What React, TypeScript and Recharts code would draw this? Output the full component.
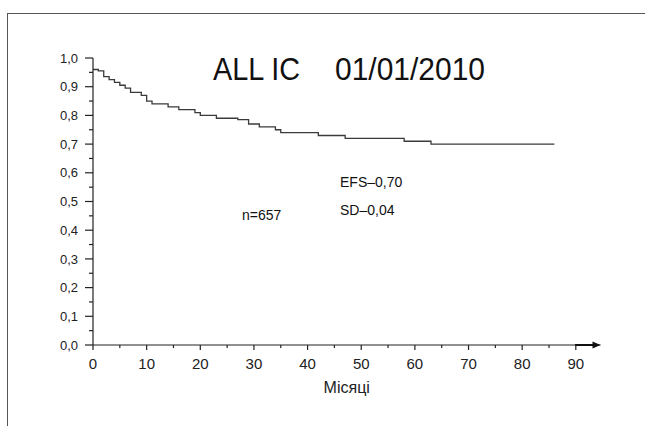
import { LineChart, Line, XAxis, YAxis } from "recharts";

// Kaplan–Meier style event-free survival
const months = [0, 1, 2, 3, 4, 5, 6, 7, 9, 10, 11, 14, 16, 19, 20, 23, 27, 29, 31, 34, 35, 42, 47, 58, 63, 86];
const efs = [0.96, 0.955, 0.935, 0.925, 0.915, 0.905, 0.895, 0.88, 0.87, 0.85, 0.84, 0.83, 0.82, 0.81, 0.8, 0.79, 0.785, 0.77, 0.76, 0.75, 0.74, 0.73, 0.72, 0.71, 0.7, 0.7];

const xTicks = [0, 5, 10, 15, 20, 25, 30, 35, 40, 45, 50, 55, 60, 65, 70, 75, 80, 85, 90];
const yTicks = [0, 0.05, 0.1, 0.15, 0.2, 0.25, 0.3, 0.35, 0.4, 0.45, 0.5, 0.55, 0.6, 0.65, 0.7, 0.75, 0.8, 0.85, 0.9, 0.95, 1];

const title = ["ALL IC", "01/01/2010"];
const xLabel = "Місяці";
const notes = ["EFS–0,70", "SD–0,04", "n=657"];

const data = months.map((m, i) => ({ m, v: efs[i] }));

const INK = "#222";
const FONT = "'Liberation Sans', Arial, Helvetica, sans-serif";

function XTick({ x, y, payload }: any) {
  const v = payload.value;
  const major = v % 10 === 0;
  return (
    <g>
      <line x1={x} x2={x} y1={y} y2={y + (major ? 5 : 3)} stroke={INK} strokeWidth={1.2} />
      {major && (
        <text x={x} y={y + 24} textAnchor="middle" fontSize={15} fill={INK} fontFamily={FONT}>
          {v}
        </text>
      )}
    </g>
  );
}

function YTick({ x, y, payload }: any) {
  const v = payload.value;
  const major = Math.abs(Math.round(v * 10) - v * 10) < 1e-6;
  return (
    <g>
      <line x1={x - (major ? 8 : 4)} x2={x} y1={y} y2={y} stroke={INK} strokeWidth={1.2} />
      {major && (
        <text x={x - 15} y={y + 4.6} textAnchor="end" fontSize={13} fill={INK} fontFamily={FONT}>
          {v.toFixed(1).replace(".", ",")}
        </text>
      )}
    </g>
  );
}

export default function App() {
  return (
    <div style={{ position: "absolute", left: 0, top: 0, width: 645, height: 426, background: "#fff", overflow: "hidden" }}>
      <svg width={0} height={0} style={{ position: "absolute" }}>
        <defs>
          <marker id="axisArrow" markerUnits="userSpaceOnUse" markerWidth={30} markerHeight={10} viewBox="0 -5 30 10" refX={26} refY={0} orient="auto">
            <path d="M0,-1 L18,-1 L18,-3.5 L26,0 L18,3.5 L18,1 L0,1 Z" fill="#111" />
          </marker>
        </defs>
      </svg>

      {/* frame (top + left edges only) */}
      <div style={{ position: "absolute", left: 7, top: 13, right: -2, bottom: -2, borderTop: "1.5px solid #555", borderLeft: "1.5px solid #555" }} />

      <LineChart width={645} height={426} data={data} margin={{ top: 58, right: 44.5, bottom: 51, left: 33 }}>
        <XAxis
          dataKey="m"
          type="number"
          domain={[0, 94.6]}
          ticks={xTicks}
          interval={0}
          tickSize={0}
          tickMargin={0}
          tickLine={false}
          tick={<XTick />}
          axisLine={{ stroke: INK, strokeWidth: 1.2, markerEnd: "url(#axisArrow)" }}
          height={30}
          label={{ value: xLabel, position: "bottom", offset: 7, fontSize: 16, fill: INK, fontFamily: FONT }}
        />
        <YAxis
          type="number"
          domain={[0, 1]}
          ticks={yTicks}
          interval={0}
          tickSize={0}
          tickMargin={0}
          tickLine={false}
          tick={<YTick />}
          axisLine={{ stroke: INK, strokeWidth: 1.2 }}
          width={60}
        />
        <Line type="stepAfter" dataKey="v" stroke="#3a3a3a" strokeWidth={1.3} dot={false} activeDot={false} isAnimationActive={false} />
      </LineChart>

      <svg width={645} height={426} style={{ position: "absolute", left: 0, top: 0, pointerEvents: "none" }} fontFamily={FONT} fill="#111">
        <text x={213} y={80} fontSize={31} textLength={87} lengthAdjust="spacingAndGlyphs">{title[0]}</text>
        <text x={335} y={80} fontSize={31} textLength={150} lengthAdjust="spacingAndGlyphs">{title[1]}</text>
        <text x={340} y={187} fontSize={14}>{notes[0]}</text>
        <text x={340} y={215} fontSize={14}>{notes[1]}</text>
        <text x={242} y={220} fontSize={14}>{notes[2]}</text>
      </svg>
    </div>
  );
}
